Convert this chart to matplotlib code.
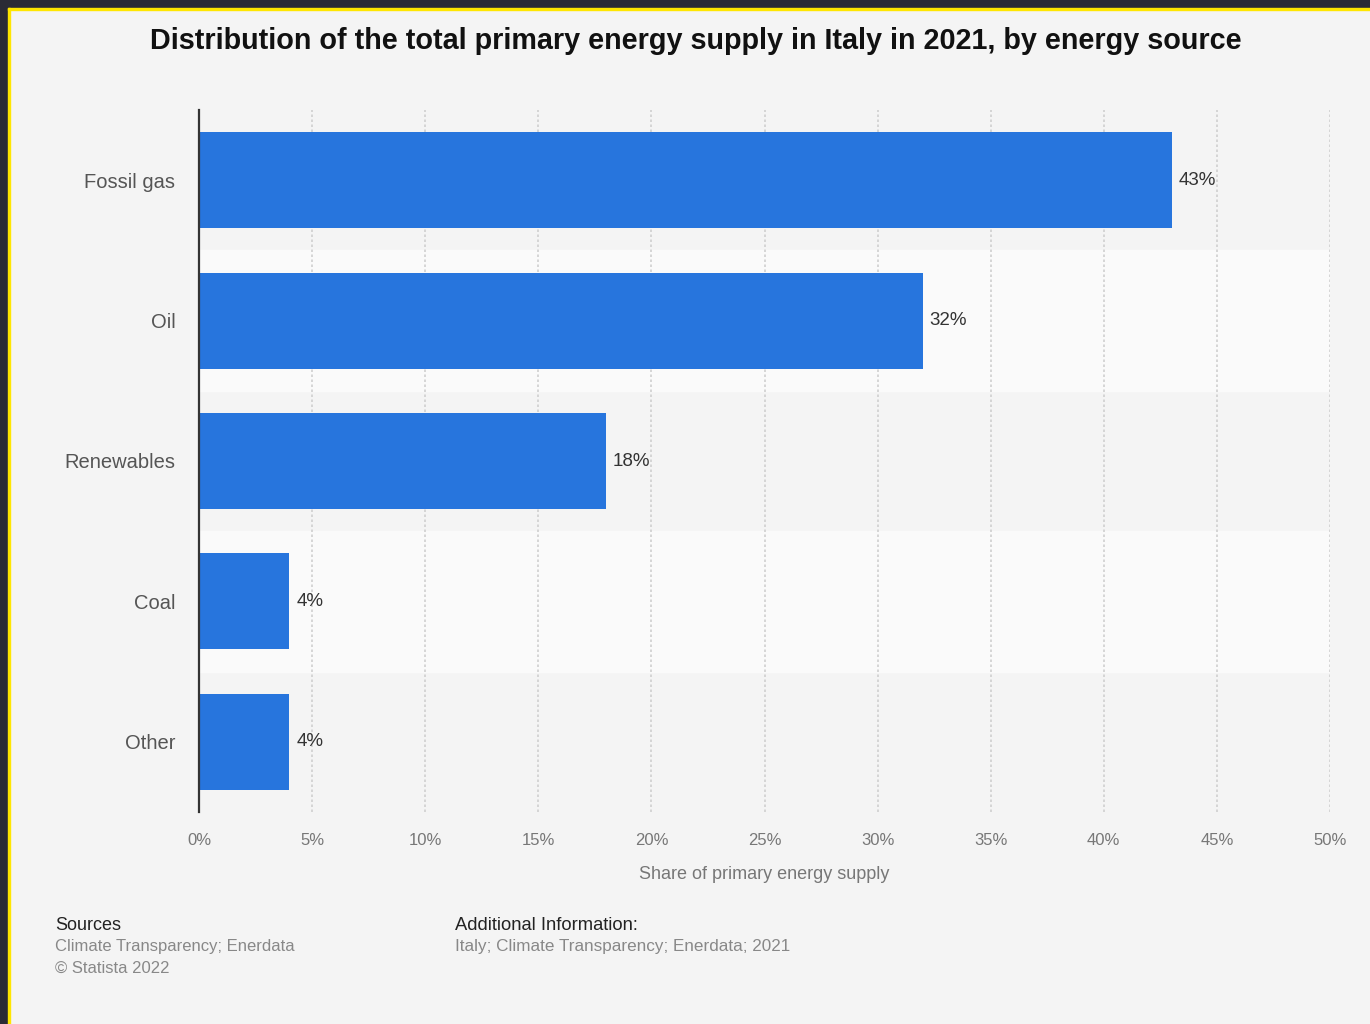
import matplotlib.pyplot as plt
from matplotlib.patches import Rectangle

# Data
sources = ['Fossil gas', 'Oil', 'Renewables', 'Coal', 'Other']
shares = [43, 32, 18, 4, 4]
ticks = [0, 5, 10, 15, 20, 25, 30, 35, 40, 45, 50]
tick_labels = [f'{t}%' for t in ticks]

plt.rcParams['font.family'] = ['Liberation Sans', 'DejaVu Sans']

fig = plt.figure(figsize=(13.7, 10.24), dpi=100)
fig.patch.set_facecolor('#f4f4f4')

# frame: dark border with a thin yellow line (top and left)
fig.add_artist(Rectangle((0, 1 - 8 / 1024), 1, 8 / 1024, transform=fig.transFigure,
                         color='#2b2b35', zorder=0))
fig.add_artist(Rectangle((0, 0), 8 / 1370, 1, transform=fig.transFigure,
                         color='#2b2b35', zorder=0))
fig.add_artist(Rectangle((8 / 1370, 1 - 10 / 1024), 1, 2 / 1024, transform=fig.transFigure,
                         color='#ffe600', zorder=1))
fig.add_artist(Rectangle((8 / 1370, 0), 2 / 1370, 1 - 8 / 1024, transform=fig.transFigure,
                         color='#ffe600', zorder=1))

ax = fig.add_axes([199 / 1370, 1 - 812 / 1024, (1330 - 199) / 1370, (812 - 110) / 1024])
ax.set_facecolor('#f4f4f4')

y = list(range(len(sources)))
# alternating row bands
for i in y:
    if i % 2 == 1:
        ax.axhspan(i - 0.5, i + 0.5, color='#fafafa', zorder=0)

ax.barh(y, shares, height=0.685, color='#2775dd', zorder=3)
for i, v in zip(y, shares):
    ax.text(v + 0.3, i, f'{v}%', va='center', ha='left', fontsize=13.5, color='#333333', zorder=4)

ax.set_xlim(0, 50)
ax.set_ylim(len(sources) - 0.5, -0.5)
ax.set_xticks(ticks)
ax.set_xticklabels(tick_labels, fontsize=12, color='#777777')
ax.set_yticks(y)
ax.set_yticklabels(sources, fontsize=14.5, color='#555555')
ax.tick_params(axis='both', length=0)
ax.tick_params(axis='x', pad=15)
ax.tick_params(axis='y', pad=17)

for t in ticks[1:]:
    ax.axvline(t, color='#cfcfcf', linestyle=(0, (1.5, 1.5)), linewidth=1.2, zorder=1)

for s in ['top', 'right', 'bottom']:
    ax.spines[s].set_visible(False)
ax.spines['left'].set_color('#333333')
ax.spines['left'].set_linewidth(1.6)
ax.spines['left'].set_zorder(5)

ax.set_xlabel('Share of primary energy supply', fontsize=13, color='#777777', labelpad=13)

fig.text(696 / 1370, 1 - 41 / 1024, 'Distribution of the total primary energy supply in Italy in 2021, by energy source',
         ha='center', va='center', fontsize=20.7, fontweight='bold', color='#111111')

fig.text(55 / 1370, 1 - 925 / 1024, 'Sources', fontsize=13, color='#222222', va='center')
fig.text(55 / 1370, 1 - 947 / 1024, 'Climate Transparency; Enerdata', fontsize=12, color='#888888', va='center')
fig.text(55 / 1370, 1 - 968 / 1024, '\u00a9 Statista 2022', fontsize=12, color='#888888', va='center')
fig.text(455 / 1370, 1 - 925 / 1024, 'Additional Information:', fontsize=13.2, color='#222222', va='center')
fig.text(455 / 1370, 1 - 947 / 1024, 'Italy; Climate Transparency; Enerdata; 2021', fontsize=12.3,
         color='#888888', va='center')

fig.savefig('out.png', dpi=100, facecolor=fig.get_facecolor())
